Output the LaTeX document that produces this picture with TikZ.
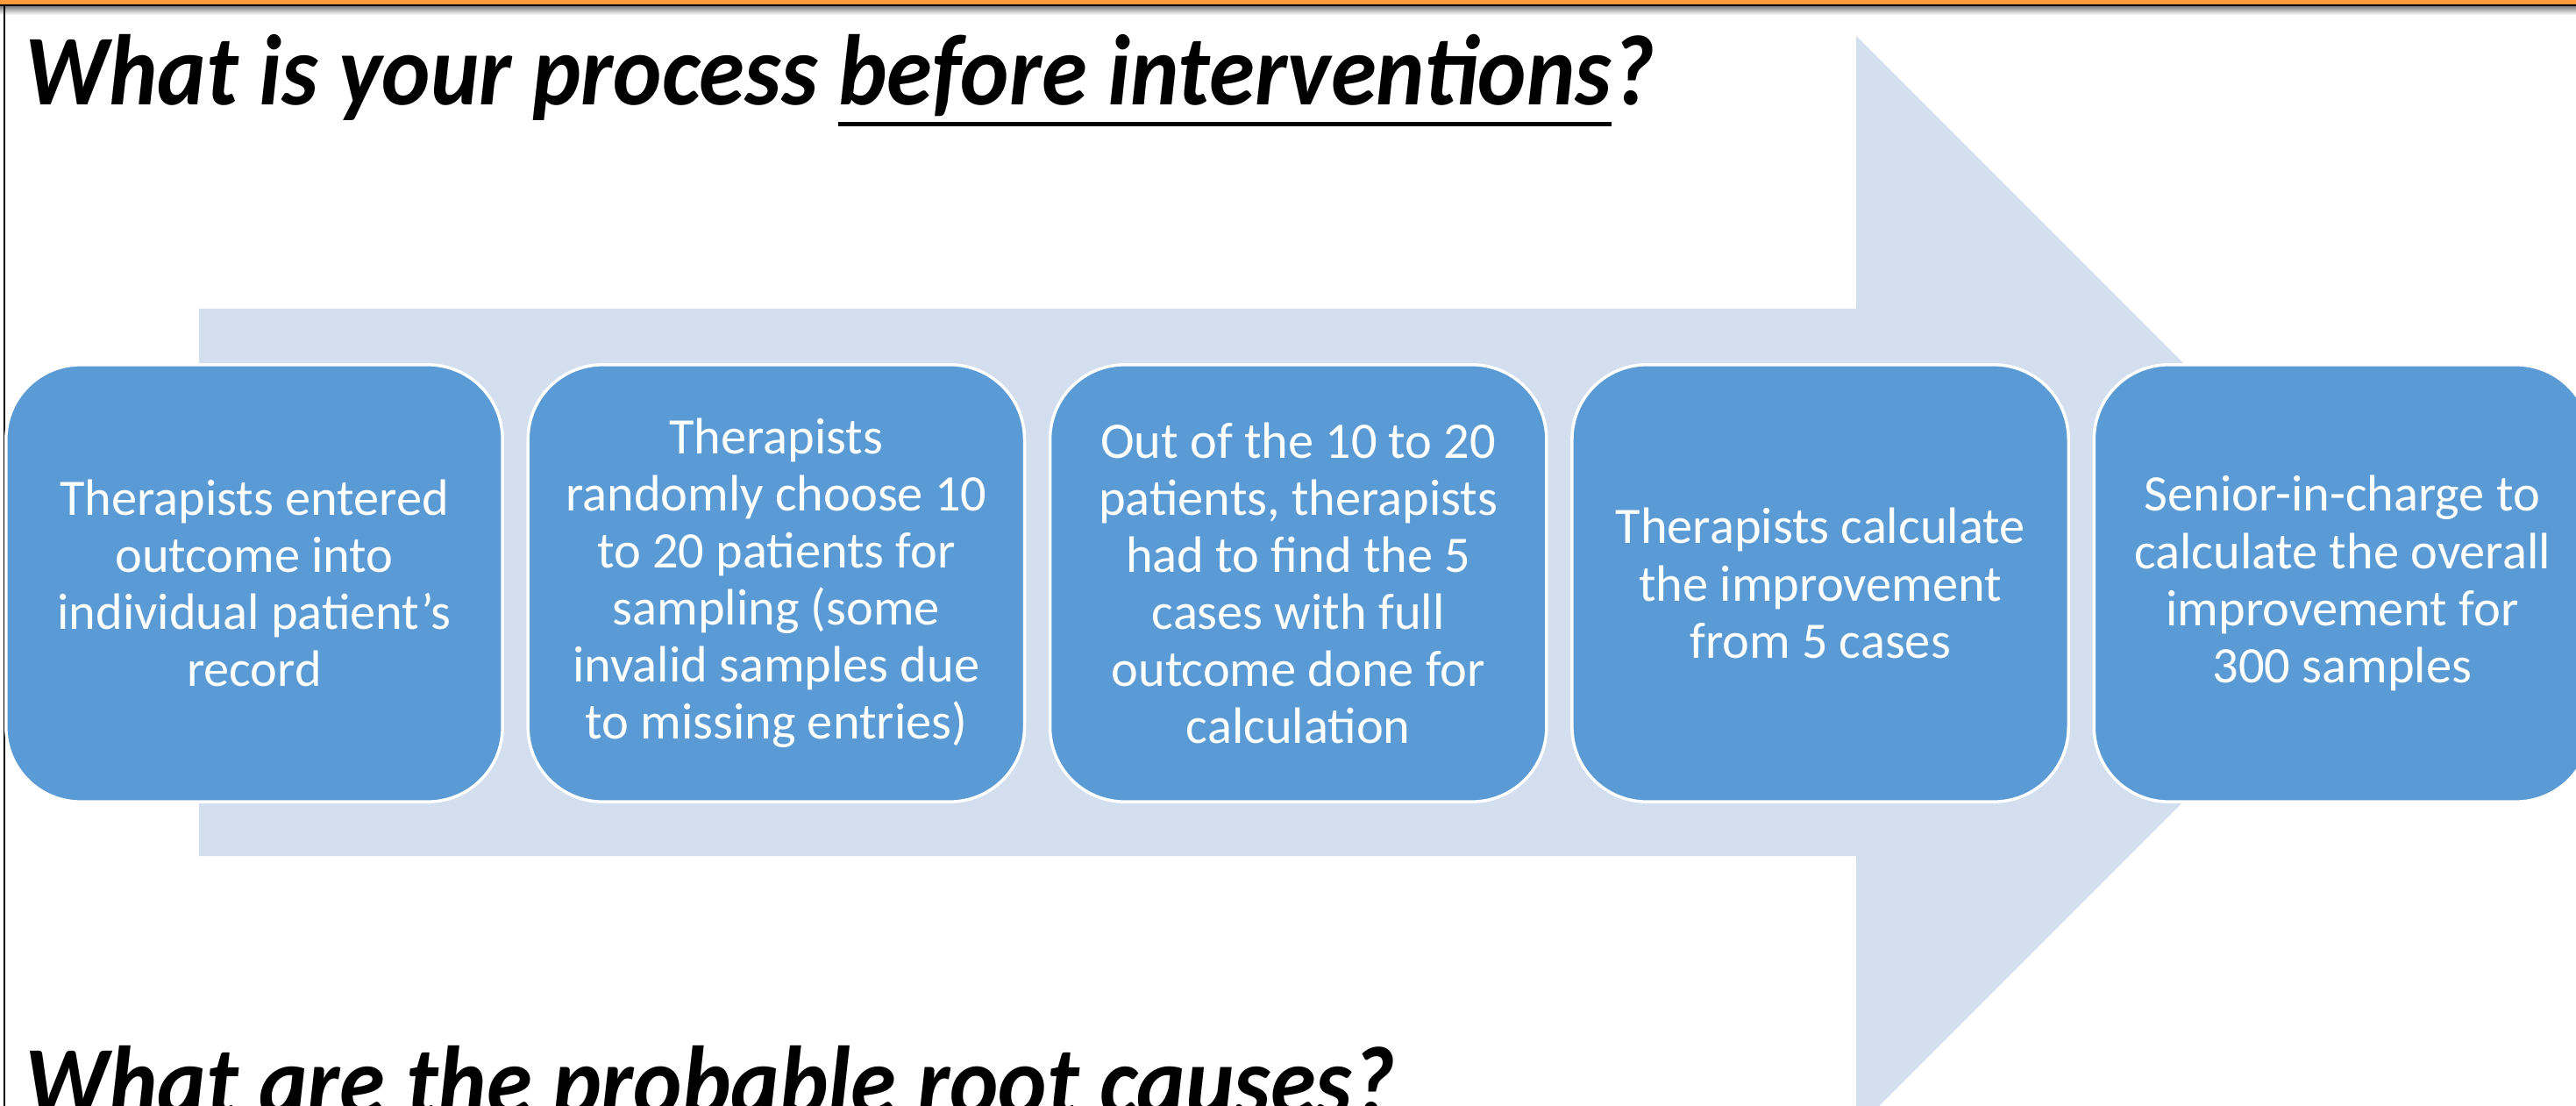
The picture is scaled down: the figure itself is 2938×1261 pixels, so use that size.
\documentclass[tikz,border=0pt]{standalone}
\usepackage{fontspec}
\setmainfont{Carlito}
\newfontfamily\headfont{Carlito}[FakeStretch=0.92]
\usetikzlibrary{positioning}

\definecolor{arrowfill}{HTML}{D3DEEF}
\definecolor{boxfill}{HTML}{5B9BD5}
\definecolor{topbar}{HTML}{FF9A3D}

\newsavebox{\ulbox}
\newcommand{\thickul}[1]{\sbox\ulbox{#1}\rlap{\rule[-0.21em]{\wd\ulbox}{0.045em}}\usebox\ulbox}

\tikzset{
    stepbox/.style={draw=white, line width=1pt, fill=boxfill, rounded corners=0.85cm,
        minimum width=5.66cm, minimum height=4.98cm, inner sep=0pt,
        text=white, align=center, font=\fontsize{16.6}{18.5}\selectfont},
    heading/.style={anchor=base west, inner sep=0pt,
        font=\headfont\fontsize{32.5}{39}\selectfont\bfseries\itshape}
}

\begin{document}
\begin{tikzpicture}[x=0.01cm, y=-0.01cm]
    \useasboundingbox (0,0) rectangle (2938,1261);
    \clip (0,0) rectangle (2938,1261);

    % Frame of the slide
    \fill[topbar] (0,0) rectangle (2938,5);
    \shade[top color=black!50, bottom color=white] (0,7) rectangle (2938,17);
    \fill[black] (0,5) rectangle (2938,7);
    \draw[black, line width=0.6pt] (5,5) -- (5,1261);

    % Big background arrow
    \fill[arrowfill] (227,352) -- (2117,352) -- (2117,41) -- (2740,664)
        -- (2117,1287) -- (2117,976) -- (227,976) -- cycle;

    % Process steps
    \node[stepbox] (b1) at (290,665) {Therapists entered\\outcome into\\individual patient’s\\record};
    \node[stepbox, right=0.255cm of b1] (b2) {Therapists\\randomly choose 10\\to 20 patients for\\sampling (some\\invalid samples due\\to missing entries)};
    \node[stepbox, right=0.255cm of b2] (b3) {Out of the 10 to 20\\patients, therapists\\had to find the 5\\cases with full\\outcome done for\\calculation};
    \node[stepbox, right=0.255cm of b3] (b4) {Therapists calculate\\the improvement\\from 5 cases};
    \node[stepbox, right=0.255cm of b4] (b5) {Senior-in-charge to\\calculate the overall\\improvement for\\300 samples};

    % Headings
    \node[heading] (q1) at (28,120) {What is your process \thickul{before interventions}?};
    \node[heading] (q2) at (28,1272) {What are the probable root causes?};
\end{tikzpicture}
\end{document}
